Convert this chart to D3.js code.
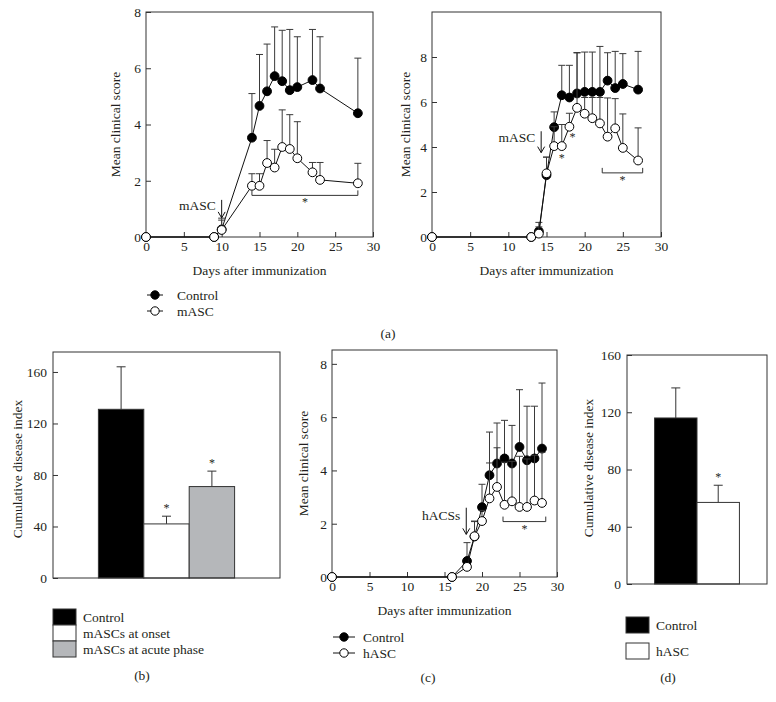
<!DOCTYPE html>
<html>
<head>
<meta charset="utf-8">
<script src="https://cdn.jsdelivr.net/npm/d3@7"></script>
<style>
  body { margin: 0; background: #fff; }
  svg { display: block; font-family: "Liberation Serif", "DejaVu Serif", serif; }
  text { fill: #231f20; }
</style>
</head>
<body>
<svg id="chart" width="776" height="702"></svg>
<script>
// ---- data ----
// (a) left: mASC given at onset
const aLeftDays = [0, 9, 10, 14, 15, 16, 17, 18, 19, 20, 22, 23, 28];
const aLeftControl = [0, 0, 0.27, 3.53, 4.66, 5.18, 5.72, 5.54, 5.22, 5.33, 5.58, 5.28, 4.4];
const aLeftControlSd = [0, 0, 0.4, 1.57, 1.83, 1.68, 1.75, 1.81, 2.16, 1.79, 1.8, 1.84, 1.96];
const aLeftMasc = [0, 0, 0.25, 1.82, 1.82, 2.63, 2.47, 3.2, 3.13, 2.8, 2.3, 2.03, 1.91];
const aLeftMascSd = [0, 0, 0.35, 0.43, 0.43, 0.8, 0.65, 1.32, 1.22, 1.3, 0.35, 0.62, 0.71];

// (a) right: mASC given at acute phase
const aRightDays = [0, 13, 14, 15, 16, 17, 18, 19, 20, 21, 22, 23, 24, 25, 27];
const aRightControl = [0, 0, 0.25, 2.75, 4.88, 6.3, 6.2, 6.38, 6.45, 6.45, 6.45, 6.95, 6.62, 6.8, 6.55];
const aRightControlSd = [0, 0, 0.4, 0.8, 0.68, 1.33, 1.43, 1.8, 1.77, 1.77, 2.02, 1.24, 1.63, 1.35, 1.7];
const aRightMasc = [0, 0, 0.15, 2.83, 4.04, 4.04, 4.9, 5.74, 5.48, 5.28, 5.05, 4.46, 4.83, 3.96, 3.4];
const aRightMascSd = [0, 0, 0.3, 0.72, 0.86, 0.96, 0.6, 2.46, 0.72, 0.92, 1.15, 1.72, 1.32, 1.51, 1.45];

// (c) hASC
const cDays = [0, 16, 18, 19, 20, 21, 22, 23, 24, 25, 26, 27, 28];
const cControl = [0, 0, 0.6, 1.52, 2.62, 3.82, 4.26, 4.45, 4.26, 4.88, 4.38, 4.45, 4.82];
const cControlSd = [0, 0, 0.69, 0.58, 0.86, 1.62, 1.52, 1.43, 1.43, 2.15, 2.03, 1.96, 2.46];
const cHasc = [0, 0, 0.38, 1.53, 2.1, 2.95, 3.38, 2.71, 2.84, 2.63, 2.63, 2.87, 2.78];
const cHascSd = [0, 0, 0.1, 0.55, 0.4, 1.33, 1.47, 1.6, 1.5, 1.9, 1.8, 1.7, 1.9];

const dayTicks = [0, 5, 10, 15, 20, 25, 30];
const scoreTicks = [0, 2, 4, 6, 8];

// (b) cumulative disease index, mice
const bGroups = ['Control', 'mASCs at onset', 'mASCs at acute phase'];
const bValues = [131, 42, 71];
const bSd = [33, 6, 12];
const bStars = [false, true, true];

// (d) cumulative disease index, human cells
const dGroups = ['Control', 'hASC'];
const dValues = [116, 57];
const dSd = [21, 12];
const dStars = [false, true];

const indexTicks = [0, 40, 80, 120, 160];

const svg = d3.select('#chart');
const ink = '#231f20';
const fs = '13.5px';

function styleAxis(g) {
  g.select('.domain').remove();
  g.selectAll('.tick line').attr('stroke', '#333').attr('stroke-width', 1);
  g.selectAll('.tick text')
    .attr('font-size', fs)
    .attr('font-family', '"Liberation Serif", serif')
    .attr('fill', ink);
}

function yLabel(text, cx, cy) {
  svg.append('text')
    .attr('transform', `translate(${cx},${cy}) rotate(-90)`)
    .attr('text-anchor', 'middle')
    .attr('dy', '0.35em')
    .attr('font-size', fs)
    .text(text);
}

function plainText(text, x, y, anchor) {
  svg.append('text')
    .attr('x', x)
    .attr('y', y)
    .attr('text-anchor', anchor || 'start')
    .attr('dy', '0.35em')
    .attr('font-size', fs)
    .text(text);
}

// line chart of mean clinical score
function linePanel(cfg) {
  const x = d3.scaleLinear().domain([0, 30]).range([cfg.left, cfg.right]);
  const y = d3.scaleLinear().domain([0, cfg.yMax]).range([cfg.bottom, cfg.top]);
  const g = svg.append('g');

  g.append('g')
    .attr('transform', `translate(0,${cfg.bottom})`)
    .call(d3.axisBottom(x).tickValues(dayTicks).tickSizeInner(-5).tickSizeOuter(0).tickPadding(4))
    .call(styleAxis);
  g.append('g')
    .attr('transform', `translate(${cfg.left},0)`)
    .call(d3.axisLeft(y).tickValues(scoreTicks).tickSizeInner(-5).tickSizeOuter(0).tickPadding(5))
    .call(styleAxis);

  g.append('rect')
    .attr('x', cfg.left).attr('y', cfg.top)
    .attr('width', cfg.right - cfg.left).attr('height', cfg.bottom - cfg.top)
    .attr('fill', 'none').attr('stroke', '#333').attr('stroke-width', 1);

  cfg.series.forEach(s => {
    const pts = cfg.days.map((d, i) => ({ day: d, v: s.mean[i], sd: s.sd[i] }));

    // upper error bars
    const eb = g.append('g').attr('stroke', '#3a3a3a').attr('stroke-width', 1);
    pts.filter(p => p.sd > 0).forEach(p => {
      const top = y(p.v + p.sd);
      eb.append('line').attr('x1', x(p.day)).attr('x2', x(p.day)).attr('y1', y(p.v)).attr('y2', top);
      eb.append('line').attr('x1', x(p.day) - 3.5).attr('x2', x(p.day) + 3.5).attr('y1', top).attr('y2', top);
    });

    g.append('path')
      .datum(pts)
      .attr('fill', 'none')
      .attr('stroke', '#111')
      .attr('stroke-width', 1)
      .attr('d', d3.line().x(p => x(p.day)).y(p => y(p.v)));

    g.selectAll(null)
      .data(pts)
      .join('circle')
      .attr('cx', p => x(p.day))
      .attr('cy', p => y(p.v))
      .attr('r', 4.4)
      .attr('fill', s.filled ? '#000' : '#fff')
      .attr('stroke', '#000')
      .attr('stroke-width', 1);
  });

  // significance bracket
  const b = cfg.bracket;
  const by = y(b.level);
  g.append('path')
    .attr('d', `M${x(b.from)},${by - 5}V${by}H${x(b.to)}V${by - 5}`)
    .attr('fill', 'none').attr('stroke', '#333').attr('stroke-width', 1);
  g.append('text')
    .attr('x', (x(b.from) + x(b.to)) / 2).attr('y', by + 11)
    .attr('text-anchor', 'middle').attr('font-size', '12px').text('*');

  (cfg.stars || []).forEach(st => {
    g.append('text')
      .attr('x', x(st.day)).attr('y', y(st.level))
      .attr('text-anchor', 'middle').attr('dy', '0.7em').attr('font-size', '12px').text('*');
  });

  // injection arrow
  const a = cfg.arrow;
  const ax = x(a.day), ya = y(a.from), yb = y(a.to);
  g.append('path')
    .attr('d', `M${ax},${ya}V${yb}M${ax - 3.5},${yb - 6}L${ax},${yb}L${ax + 3.5},${yb - 6}`)
    .attr('fill', 'none').attr('stroke', '#111').attr('stroke-width', 1);
  g.append('text')
    .attr('x', ax - 6).attr('y', ya + (yb - ya) * 0.3)
    .attr('text-anchor', 'end').attr('dy', '0.35em').attr('font-size', fs).text(a.label);

  plainText('Days after immunization', (cfg.left + cfg.right) / 2, cfg.bottom + 33, 'middle');
  yLabel('Mean clinical score', cfg.yLabelX, (cfg.top + cfg.bottom) / 2);
}

function lineLegend(x0, y0, names, len, textGap) {
  names.forEach((n, i) => {
    const yy = y0 + i * 16;
    svg.append('line').attr('x1', x0).attr('x2', x0 + len).attr('y1', yy).attr('y2', yy)
      .attr('stroke', '#111').attr('stroke-width', 1);
    svg.append('circle').attr('cx', x0 + len / 2).attr('cy', yy).attr('r', 4.2)
      .attr('fill', i === 0 ? '#000' : '#fff').attr('stroke', '#000');
    plainText(n, x0 + len + textGap, yy);
  });
}

// bar chart of cumulative disease index
function barPanel(cfg) {
  const x = d3.scaleBand().domain(cfg.groups).range([cfg.left, cfg.right])
    .paddingInner(0).paddingOuter(cfg.outer);
  const y = d3.scaleLinear().domain([0, cfg.yMax]).range([cfg.bottom, cfg.top]);
  const g = svg.append('g');

  g.append('g')
    .attr('transform', `translate(${cfg.left},0)`)
    .call(d3.axisLeft(y).tickValues(indexTicks).tickSizeInner(-5).tickSizeOuter(0).tickPadding(6))
    .call(styleAxis);

  const rows = cfg.groups.map((k, i) => ({ k, v: cfg.values[i], sd: cfg.sd[i], star: cfg.stars[i], fill: cfg.fills[i] }));

  rows.forEach(r => {
    const cx = x(r.k) + x.bandwidth() / 2;
    const top = y(r.v + r.sd);
    g.append('line').attr('x1', cx).attr('x2', cx).attr('y1', y(r.v)).attr('y2', top)
      .attr('stroke', '#333');
    g.append('line').attr('x1', cx - 4.5).attr('x2', cx + 4.5).attr('y1', top).attr('y2', top)
      .attr('stroke', '#333');
    if (r.star) {
      g.append('text').attr('x', cx).attr('y', top - 4).attr('text-anchor', 'middle')
        .attr('font-size', '12px').text('*');
    }
  });

  g.selectAll(null)
    .data(rows)
    .join('rect')
    .attr('x', r => x(r.k))
    .attr('y', r => y(r.v))
    .attr('width', x.bandwidth())
    .attr('height', r => cfg.bottom - y(r.v))
    .attr('fill', r => r.fill)
    .attr('stroke', '#333')
    .attr('stroke-width', 1);

  g.append('rect')
    .attr('x', cfg.left).attr('y', cfg.top)
    .attr('width', cfg.right - cfg.left).attr('height', cfg.bottom - cfg.top)
    .attr('fill', 'none').attr('stroke', '#333').attr('stroke-width', 1);

  yLabel('Cumulative disease index', cfg.yLabelX, cfg.yLabelY);
}

function barLegend(x0, y0, names, fills, rowGap) {
  names.forEach((n, i) => {
    const yy = y0 + i * rowGap;
    svg.append('rect').attr('x', x0).attr('y', yy).attr('width', 23).attr('height', 16)
      .attr('fill', fills[i]).attr('stroke', '#333');
    plainText(n, x0 + 30, yy + 8);
  });
}

// ---- panel (a) ----
linePanel({
  left: 146, right: 373, top: 12, bottom: 237, yMax: 8, yLabelX: 115,
  days: aLeftDays,
  series: [
    { mean: aLeftControl, sd: aLeftControlSd, filled: true },
    { mean: aLeftMasc, sd: aLeftMascSd, filled: false }
  ],
  bracket: { from: 14, to: 28, level: 1.48 },
  arrow: { day: 10, from: 1.32, to: 0.68, label: 'mASC' }
});

linePanel({
  left: 432, right: 661, top: 12, bottom: 237, yMax: 10, yLabelX: 405,
  days: aRightDays,
  series: [
    { mean: aRightControl, sd: aRightControlSd, filled: true },
    { mean: aRightMasc, sd: aRightMascSd, filled: false }
  ],
  bracket: { from: 22.3, to: 27.6, level: 2.85 },
  stars: [{ day: 17, level: 3.7 }, { day: 18.4, level: 4.65 }],
  arrow: { day: 14.3, from: 4.7, to: 3.75, label: 'mASC' }
});

lineLegend(147, 295, ['Control', 'mASC'], 16, 14);
plainText('(a)', 388, 333, 'middle');

// ---- panel (b) ----
barPanel({
  left: 53, right: 280, top: 352, bottom: 578, yMax: 175.5, outer: 1,
  groups: bGroups, values: bValues, sd: bSd, stars: bStars,
  fills: ['#000', '#fff', '#b5b7ba'],
  yLabelX: 17, yLabelY: 469
});
barLegend(53, 609, bGroups, ['#000', '#fff', '#b5b7ba'], 16);
plainText('(b)', 142, 675, 'middle');

// ---- panel (c) ----
linePanel({
  left: 332, right: 557, top: 350, bottom: 577, yMax: 8.52, yLabelX: 303,
  days: cDays,
  series: [
    { mean: cControl, sd: cControlSd, filled: true },
    { mean: cHasc, sd: cHascSd, filled: false }
  ],
  bracket: { from: 22.8, to: 28.5, level: 2.08 },
  arrow: { day: 17.9, from: 2.6, to: 1.6, label: 'hACSs' }
});
lineLegend(333, 637, ['Control', 'hASC'], 22, 8);
plainText('(c)', 428, 677, 'middle');

// ---- panel (d) ----
barPanel({
  left: 627, right: 767, top: 355, bottom: 584, yMax: 160, outer: 0.65,
  groups: dGroups, values: dValues, sd: dSd, stars: dStars,
  fills: ['#000', '#fff'],
  yLabelX: 588, yLabelY: 468
});
barLegend(626, 617, dGroups, ['#000', '#fff'], 26);
plainText('(d)', 668, 677, 'middle');
</script>
</body>
</html>
